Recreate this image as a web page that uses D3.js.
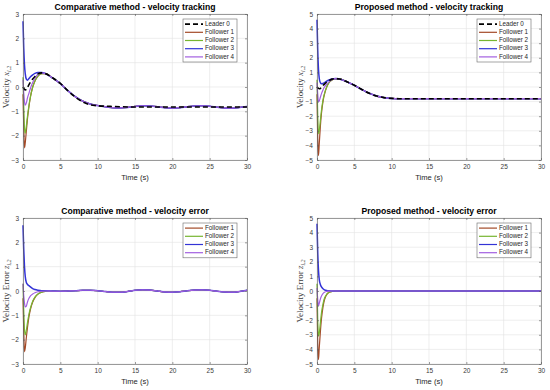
<!DOCTYPE html>
<meta charset="utf-8">
<script src="https://d3js.org/d3.v7.min.js"></script>
<style>
  body { margin: 0; background: #fff; }
  text { font-family: "Liberation Sans", Arial, sans-serif; }
  .grid line { stroke: #e3e3e3; stroke-width: 0.6; }
  .ticklab { font-size: 6.5px; fill: #3a3a3a; }
</style>
<div id="fig"></div>
<script>

// time samples (s), shared by every series
var time = [0, 0.1, 0.2, 0.3, 0.45, 0.6, 0.8, 1.0, 1.3, 1.6, 2.0, 2.5,
            3, 4, 5, 6, 7, 8, 9, 10, 11, 12, 13, 14, 15, 16, 17, 18, 19, 20,
            21, 22, 23, 24, 25, 26, 27, 28, 29, 30];

var xTicks = [0, 5, 10, 15, 20, 25, 30];
var yTicksComp = [-3, -2, -1, 0, 1, 2, 3];
var yTicksProp = [-5, -4, -3, -2, -1, 0, 1, 2, 3, 4, 5];

var seriesNames = ["Leader 0", "Follower 1", "Follower 2", "Follower 3", "Follower 4"];

// comparative method - velocity tracking
var compLeader = [0, -0.05, -0.1, -0.12, -0.1, -0.02, 0.1, 0.2, 0.33, 0.43, 0.54, 0.58,
  0.55, 0.37, 0.15, -0.15, -0.41, -0.61, -0.73, -0.77, -0.79, -0.8, -0.81, -0.82, -0.82, -0.82,
  -0.82, -0.82, -0.82, -0.82, -0.82, -0.82, -0.82, -0.82, -0.82, -0.82, -0.82, -0.82, -0.82, -0.82];
var compF1 = [-0.3, -1.6, -2.5, -2.3, -1.8, -1.3, -0.8, -0.4, 0.0, 0.25, 0.45, 0.55,
  0.55, 0.36, 0.14, -0.15, -0.4, -0.58, -0.7, -0.76, -0.81, -0.85, -0.86, -0.84, -0.8, -0.77,
  -0.78, -0.81, -0.85, -0.87, -0.85, -0.81, -0.78, -0.77, -0.79, -0.83, -0.86, -0.87, -0.84, -0.8];
var compF2 = [0.4, -0.8, -1.7, -1.9, -1.6, -1.2, -0.75, -0.4, 0.0, 0.25, 0.45, 0.55,
  0.55, 0.36, 0.14, -0.15, -0.4, -0.58, -0.7, -0.76, -0.81, -0.85, -0.86, -0.84, -0.8, -0.77,
  -0.78, -0.81, -0.85, -0.87, -0.85, -0.81, -0.78, -0.77, -0.79, -0.83, -0.86, -0.87, -0.84, -0.8];
var compF3 = [2.7, 1.6, 0.9, 0.55, 0.32, 0.28, 0.35, 0.42, 0.5, 0.56, 0.6, 0.6,
  0.55, 0.36, 0.14, -0.15, -0.4, -0.58, -0.7, -0.76, -0.81, -0.85, -0.86, -0.84, -0.8, -0.77,
  -0.78, -0.81, -0.85, -0.87, -0.85, -0.81, -0.78, -0.77, -0.79, -0.83, -0.86, -0.87, -0.84, -0.8];
var compF4 = [0.3, -0.25, -0.6, -0.75, -0.65, -0.45, -0.25, -0.05, 0.18, 0.36, 0.52, 0.58,
  0.55, 0.36, 0.14, -0.15, -0.4, -0.58, -0.7, -0.76, -0.81, -0.85, -0.86, -0.84, -0.8, -0.77,
  -0.78, -0.81, -0.85, -0.87, -0.85, -0.81, -0.78, -0.77, -0.79, -0.83, -0.86, -0.87, -0.84, -0.8];

// comparative method - velocity error
var compErrF1 = [-0.3, -1.6, -2.5, -2.35, -1.9, -1.5, -1.05, -0.75, -0.45, -0.27, -0.13, -0.05,
  -0.02, -0.01, -0.01, 0, 0.01, 0.03, 0.03, 0.01, -0.02, -0.05, -0.05, -0.02, 0.03, 0.05,
  0.04, 0, -0.04, -0.05, -0.03, 0.01, 0.04, 0.05, 0.03, -0.01, -0.04, -0.05, -0.02, 0.03];
var compErrF2 = [0.3, -0.8, -1.6, -1.8, -1.6, -1.3, -0.95, -0.7, -0.42, -0.25, -0.12, -0.05,
  -0.02, -0.01, -0.01, 0, 0.01, 0.03, 0.03, 0.01, -0.02, -0.05, -0.05, -0.02, 0.03, 0.05,
  0.04, 0, -0.04, -0.05, -0.03, 0.01, 0.04, 0.05, 0.03, -0.01, -0.04, -0.05, -0.02, 0.03];
var compErrF3 = [2.7, 1.7, 1.0, 0.6, 0.35, 0.27, 0.22, 0.17, 0.1, 0.06, 0.03, 0.01,
  0.01, 0, -0.01, 0, 0.01, 0.03, 0.03, 0.01, -0.02, -0.05, -0.05, -0.02, 0.03, 0.05,
  0.04, 0, -0.04, -0.05, -0.03, 0.01, 0.04, 0.05, 0.03, -0.01, -0.04, -0.05, -0.02, 0.03];
var compErrF4 = [0.3, -0.2, -0.5, -0.65, -0.62, -0.45, -0.3, -0.2, -0.12, -0.07, -0.03, -0.01,
  0, -0.01, -0.01, 0, 0.01, 0.03, 0.03, 0.01, -0.02, -0.05, -0.05, -0.02, 0.03, 0.05,
  0.04, 0, -0.04, -0.05, -0.03, 0.01, 0.04, 0.05, 0.03, -0.01, -0.04, -0.05, -0.02, 0.03];

// proposed method - velocity tracking
var propLeader = [0, -0.05, -0.1, -0.12, -0.1, -0.02, 0.1, 0.2, 0.33, 0.43, 0.54, 0.58,
  0.55, 0.36, 0.12, -0.17, -0.43, -0.62, -0.73, -0.78, -0.8, -0.8, -0.8, -0.8, -0.8, -0.8,
  -0.8, -0.8, -0.8, -0.8, -0.8, -0.8, -0.8, -0.8, -0.8, -0.8, -0.8, -0.8, -0.8, -0.8];
var propF1 = [-0.5, -3.5, -4.7, -3.9, -2.7, -1.8, -1.0, -0.5, 0.0, 0.3, 0.48, 0.56,
  0.55, 0.36, 0.12, -0.17, -0.43, -0.62, -0.73, -0.78, -0.8, -0.8, -0.8, -0.8, -0.8, -0.8,
  -0.8, -0.8, -0.8, -0.8, -0.8, -0.8, -0.8, -0.8, -0.8, -0.8, -0.8, -0.8, -0.8, -0.8];
var propF2 = [0.5, -2.0, -3.2, -3.0, -2.3, -1.6, -0.9, -0.45, 0.0, 0.3, 0.48, 0.56,
  0.55, 0.36, 0.12, -0.17, -0.43, -0.62, -0.73, -0.78, -0.8, -0.8, -0.8, -0.8, -0.8, -0.8,
  -0.8, -0.8, -0.8, -0.8, -0.8, -0.8, -0.8, -0.8, -0.8, -0.8, -0.8, -0.8, -0.8, -0.8];
var propF3 = [4.6, 2.5, 1.2, 0.6, 0.3, 0.22, 0.25, 0.3, 0.4, 0.48, 0.55, 0.58,
  0.55, 0.36, 0.12, -0.17, -0.43, -0.62, -0.73, -0.78, -0.8, -0.8, -0.8, -0.8, -0.8, -0.8,
  -0.8, -0.8, -0.8, -0.8, -0.8, -0.8, -0.8, -0.8, -0.8, -0.8, -0.8, -0.8, -0.8, -0.8];
var propF4 = [0.3, -0.5, -1.0, -0.95, -0.7, -0.45, -0.2, 0.0, 0.2, 0.35, 0.5, 0.57,
  0.55, 0.36, 0.12, -0.17, -0.43, -0.62, -0.73, -0.78, -0.8, -0.8, -0.8, -0.8, -0.8, -0.8,
  -0.8, -0.8, -0.8, -0.8, -0.8, -0.8, -0.8, -0.8, -0.8, -0.8, -0.8, -0.8, -0.8, -0.8];

// proposed method - velocity error
var propErrF1 = [-0.5, -3.6, -4.7, -3.9, -2.8, -1.9, -1.1, -0.6, -0.25, -0.1, -0.03, 0,
  0, 0, 0, 0, 0, 0, 0, 0, 0, 0, 0, 0, 0, 0, 0, 0, 0, 0, 0, 0, 0, 0, 0, 0, 0, 0, 0, 0];
var propErrF2 = [0.5, -2.0, -3.1, -2.9, -2.2, -1.5, -0.9, -0.5, -0.22, -0.09, -0.03, 0,
  0, 0, 0, 0, 0, 0, 0, 0, 0, 0, 0, 0, 0, 0, 0, 0, 0, 0, 0, 0, 0, 0, 0, 0, 0, 0, 0, 0];
var propErrF3 = [4.6, 2.6, 1.4, 0.8, 0.45, 0.28, 0.15, 0.08, 0.03, 0.01, 0, 0,
  0, 0, 0, 0, 0, 0, 0, 0, 0, 0, 0, 0, 0, 0, 0, 0, 0, 0, 0, 0, 0, 0, 0, 0, 0, 0, 0, 0];
var propErrF4 = [0.2, -0.6, -1.0, -0.85, -0.55, -0.35, -0.18, -0.09, -0.03, -0.01, 0, 0,
  0, 0, 0, 0, 0, 0, 0, 0, 0, 0, 0, 0, 0, 0, 0, 0, 0, 0, 0, 0, 0, 0, 0, 0, 0, 0, 0, 0];

var colors = ["#000000", "#A34A28", "#77B530", "#3333D6", "#A25FE0"];

var svg = d3.select("#fig").append("svg")
    .attr("width", 550)
    .attr("height", 390);

function drawPanel(p) {
  var x = d3.scaleLinear().domain([0, 30]).range([p.left, p.right]);
  var y = d3.scaleLinear().domain(p.yDomain).range([p.bottom, p.top]);
  var g = svg.append("g");

  // grid
  var grid = g.append("g").attr("class", "grid");
  grid.selectAll(".gx").data(xTicks).enter().append("line")
    .attr("x1", function(d) { return x(d); }).attr("x2", function(d) { return x(d); })
    .attr("y1", p.top).attr("y2", p.bottom);
  grid.selectAll(".gy").data(p.yTicks).enter().append("line")
    .attr("y1", function(d) { return y(d); }).attr("y2", function(d) { return y(d); })
    .attr("x1", p.left).attr("x2", p.right);

  // curves
  var line = d3.line()
    .x(function(d) { return x(d[0]); })
    .y(function(d) { return y(d[1]); })
    .curve(d3.curveMonotoneX);

  var order = p.series.map(function(s, i) { return i; });
  if (p.leader) { order = order.slice(1).concat([0]); }
  order.forEach(function(i) {
    var s = p.series[i];
    var isLeader = p.leader && i === 0;
    g.append("path")
      .datum(time.map(function(t, k) { return [t, s[k]]; }))
      .attr("fill", "none")
      .attr("stroke", colors[p.colorIdx[i]])
      .attr("stroke-width", isLeader ? 1.6 : (p.colorIdx[i] === 3 ? 1.5 : 1.2))
      .attr("stroke-dasharray", isLeader ? "5,3" : null)
      .attr("d", line);
  });

  // axes box with inward ticks, MATLAB style
  var fmt = d3.format("d");
  var axB = g.append("g").attr("transform", "translate(0," + p.bottom + ")")
    .call(d3.axisBottom(x).tickValues(xTicks).tickFormat(fmt).tickSizeInner(-2).tickSizeOuter(0).tickPadding(4));
  var axL = g.append("g").attr("transform", "translate(" + p.left + ",0)")
    .call(d3.axisLeft(y).tickValues(p.yTicks).tickFormat(fmt).tickSizeInner(-2).tickSizeOuter(0).tickPadding(4));
  var axT = g.append("g").attr("transform", "translate(0," + p.top + ")")
    .call(d3.axisTop(x).tickValues(xTicks).tickSizeInner(-2).tickSizeOuter(0).tickFormat(""));
  var axR = g.append("g").attr("transform", "translate(" + p.right + ",0)")
    .call(d3.axisRight(y).tickValues(p.yTicks).tickSizeInner(-2).tickSizeOuter(0).tickFormat(""));
  [axB, axL, axT, axR].forEach(function(a) {
    a.selectAll("path, line").attr("stroke", "#5a5a5a").attr("stroke-width", 0.6);
    a.selectAll("text").attr("class", "ticklab").attr("font-family", null).attr("font-size", null);
  });

  // title and labels
  g.append("text")
    .attr("x", (p.left + p.right) / 2).attr("y", p.top - 4)
    .attr("text-anchor", "middle")
    .style("font-size", "8.6px").style("font-weight", "bold")
    .text(p.title);
  g.append("text")
    .attr("x", (p.left + p.right) / 2).attr("y", p.bottom + 20)
    .attr("text-anchor", "middle")
    .style("font-size", "7.6px").style("fill", "#262626")
    .text("Time (s)");

  var yl = g.append("text")
    .attr("transform", "translate(" + (p.left - 14) + "," + ((p.top + p.bottom) / 2) + ") rotate(-90)")
    .attr("text-anchor", "middle")
    .style("font-family", "'Liberation Serif', 'DejaVu Serif', serif")
    .style("font-size", "9px").style("fill", "#3a3a3a");
  yl.append("tspan").text(p.yLabel + " ");
  yl.append("tspan").style("font-style", "italic").text(p.ySym);
  yl.append("tspan").attr("dy", 2).style("font-size", "6px").style("font-style", "italic").text("i,2");

  // legend
  var names = p.names;
  var rowH = 8.2;
  var lw = 54, lh = names.length * rowH + 2;
  var lx = p.right - 10 - lw, ly = p.top + 5;
  var leg = g.append("g").attr("transform", "translate(" + lx + "," + ly + ")");
  leg.append("rect").attr("width", lw).attr("height", lh)
    .attr("fill", "#fff").attr("stroke", "#6a6a6a").attr("stroke-width", 0.6);
  names.forEach(function(n, i) {
    var cy = 1 + rowH * (i + 0.5);
    var isLeader = p.leader && i === 0;
    leg.append("line")
      .attr("x1", 2).attr("x2", 20).attr("y1", cy).attr("y2", cy)
      .attr("stroke", colors[p.colorIdx[i]])
      .attr("stroke-width", isLeader ? 1.6 : 1.2)
      .attr("stroke-dasharray", isLeader ? "5,3" : null);
    leg.append("text")
      .attr("x", 22).attr("y", cy)
      .attr("dominant-baseline", "middle")
      .style("font-size", "6.3px").style("fill", "#262626")
      .text(n);
  });
}

drawPanel({
  left: 23, right: 247, top: 14, bottom: 160,
  yDomain: [-3, 3], yTicks: yTicksComp,
  title: "Comparative method - velocity tracking",
  yLabel: "Velocity", ySym: "x",
  leader: true, names: seriesNames, colorIdx: [0, 1, 2, 3, 4],
  series: [compLeader, compF1, compF2, compF3, compF4]
});
drawPanel({
  left: 317, right: 541, top: 14, bottom: 160,
  yDomain: [-5, 5], yTicks: yTicksProp,
  title: "Proposed method - velocity tracking",
  yLabel: "Velocity", ySym: "x",
  leader: true, names: seriesNames, colorIdx: [0, 1, 2, 3, 4],
  series: [propLeader, propF1, propF2, propF3, propF4]
});
drawPanel({
  left: 23, right: 247, top: 218, bottom: 364,
  yDomain: [-3, 3], yTicks: yTicksComp,
  title: "Comparative method - velocity error",
  yLabel: "Velocity Error", ySym: "z",
  leader: false, names: seriesNames.slice(1), colorIdx: [1, 2, 3, 4],
  series: [compErrF1, compErrF2, compErrF3, compErrF4]
});
drawPanel({
  left: 317, right: 541, top: 218, bottom: 364,
  yDomain: [-5, 5], yTicks: yTicksProp,
  title: "Proposed method - velocity error",
  yLabel: "Velocity Error", ySym: "z",
  leader: false, names: seriesNames.slice(1), colorIdx: [1, 2, 3, 4],
  series: [propErrF1, propErrF2, propErrF3, propErrF4]
});
</script>
